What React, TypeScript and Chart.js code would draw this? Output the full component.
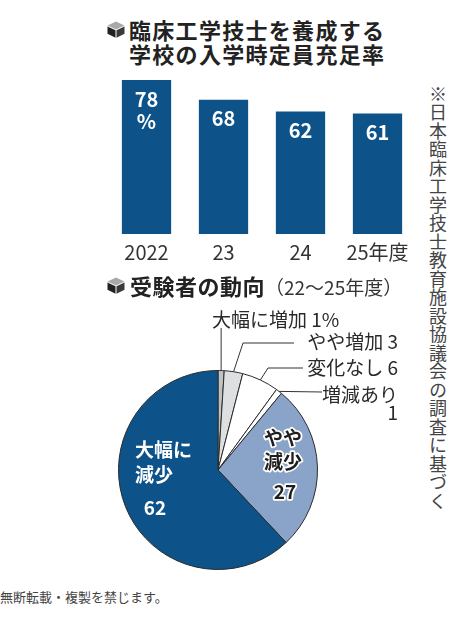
import React, { useEffect, useRef } from "react";
import { Chart, registerables } from "chart.js";

Chart.register(...registerables);

const years = ["2022", "23", "24", "25年度"];
const rates = [78, 68, 62, 61];
const trendLabels = ["大幅に増加", "やや増加", "変化なし", "増減あり", "やや減少", "大幅に減少"];
const trendValues = [1, 3, 6, 1, 27, 62];
const trendColors = ["#bfc2c5", "#dedfe0", "#ffffff", "#ffffff", "#8aa3c8", "#0d5288"];

const FONT = '"Noto Sans CJK JP", "Noto Sans", sans-serif';
const BAR_COLOR = "#0d5288";

function Cube({ left, top }: { left: number; top: number }) {
  return (
    <svg
      width={18}
      height={17}
      viewBox="0 0 18 17"
      style={{ position: "absolute", left, top }}
    >
      <polygon points="9,0.5 17.5,4.5 9,8.5 0.5,4.5" fill="#a9a9a9" />
      <polygon points="0.5,5.5 8.5,9.3 8.5,16.8 0.5,12.8" fill="#222" />
      <polygon points="9.5,9.3 17.5,5.5 17.5,12.8 9.5,16.8" fill="#3a3a3a" />
    </svg>
  );
}

function BarChart() {
  const ref = useRef<HTMLCanvasElement>(null);
  useEffect(() => {
    if (!ref.current) return;
    const labelPlugin = {
      id: "barLabels",
      afterDatasetsDraw(chart: any) {
        const ctx = chart.ctx;
        const meta = chart.getDatasetMeta(0);
        ctx.save();
        ctx.fillStyle = "#ffffff";
        ctx.font = `bold 20px ${FONT}`;
        ctx.textAlign = "center";
        ctx.textBaseline = "middle";
        meta.data.forEach((bar: any, i: number) => {
          ctx.fillText(String(rates[i]), bar.x, bar.y + 19);
          if (i === 0) ctx.fillText("%", bar.x, bar.y + 41);
        });
        ctx.restore();
      },
    };
    const chart = new Chart(ref.current, {
      type: "bar",
      data: {
        labels: years,
        datasets: [
          {
            data: rates,
            backgroundColor: BAR_COLOR,
            borderWidth: 0,
            barPercentage: 0.64,
            categoryPercentage: 1,
          },
        ],
      },
      options: {
        responsive: true,
        maintainAspectRatio: false,
        animation: false,
        layout: { padding: 0 },
        plugins: { legend: { display: false }, tooltip: { enabled: false } },
        scales: {
          y: { display: false, min: 0, max: 80 },
          x: {
            grid: { display: false, drawTicks: false },
            border: { display: false },
            ticks: {
              color: "#333",
              font: { family: FONT, size: 20 },
              padding: 6,
              maxRotation: 0,
              autoSkip: false,
            },
            afterFit: (s: any) => {
              s.height = 42;
            },
          },
        },
      },
      plugins: [labelPlugin],
    });
    return () => chart.destroy();
  }, []);
  return (
    <div style={{ position: "absolute", left: 108, top: 76, width: 308, height: 200 }}>
      <canvas ref={ref} />
    </div>
  );
}

function PieChart() {
  const ref = useRef<HTMLCanvasElement>(null);
  useEffect(() => {
    if (!ref.current) return;
    const pieLabels = {
      id: "pieLabels",
      afterDraw(chart: any) {
        const ctx = chart.ctx;
        const meta = chart.getDatasetMeta(0);
        const arcs = meta.data;
        const cx = arcs[0].x;
        const cy = arcs[0].y;
        const edge = (i: number) => {
          const a = arcs[i];
          const mid = (a.startAngle + a.endAngle) / 2;
          return [cx + a.outerRadius * Math.cos(mid), cy + a.outerRadius * Math.sin(mid)];
        };
        ctx.save();
        // leader lines
        ctx.strokeStyle = "#333";
        ctx.lineWidth = 1;
        const lines: number[][][] = [
          [edge(0), [edge(0)[0], cy - 142]],
          [edge(1), [cx + 25, cy - 127], [cx + 76, cy - 127]],
          [edge(2), [cx + 50, cy - 102], [cx + 85, cy - 102]],
          [edge(3), [cx + 104, cy - 78]],
        ];
        lines.forEach((pts) => {
          ctx.beginPath();
          ctx.moveTo(pts[0][0], pts[0][1]);
          for (let k = 1; k < pts.length; k++) ctx.lineTo(pts[k][0], pts[k][1]);
          ctx.stroke();
        });
        // outside labels
        ctx.fillStyle = "#2a2a2a";
        ctx.font = `19px ${FONT}`;
        ctx.textBaseline = "middle";
        ctx.textAlign = "left";
        ctx.fillText(`${trendLabels[0]} ${trendValues[0]}%`, cx - 6, cy - 150);
        ctx.textAlign = "right";
        ctx.fillText(`${trendLabels[1]} ${trendValues[1]}`, cx + 180, cy - 128);
        ctx.fillText(`${trendLabels[2]} ${trendValues[2]}`, cx + 180, cy - 102);
        ctx.fillText(trendLabels[3], cx + 180, cy - 75);
        ctx.fillText(String(trendValues[3]), cx + 180, cy - 57);
        // inside labels
        ctx.font = `bold 19px ${FONT}`;
        ctx.textAlign = "center";
        ctx.lineJoin = "round";
        ctx.lineWidth = 3.5;
        ctx.strokeStyle = "#ffffff";
        ctx.fillStyle = "#1e1e1e";
        const s = trendLabels[4];
        const t1 = [s.slice(0, 2), 65, -32];
        const t2 = [s.slice(2), 65, -8];
        const t3 = [String(trendValues[4]), 67, 22];
        [t1, t2, t3].forEach(([txt, dx, dy]: any) => {
          ctx.strokeText(txt, cx + dx, cy + dy);
          ctx.fillText(txt, cx + dx, cy + dy);
        });
        ctx.fillStyle = "#ffffff";
        ctx.textAlign = "left";
        const b = trendLabels[5];
        ctx.fillText(b.slice(0, 3), cx - 83, cy - 20);
        ctx.fillText(b.slice(3), cx - 83, cy + 5);
        ctx.textAlign = "center";
        ctx.fillText(String(trendValues[5]), cx - 63, cy + 38);
        ctx.restore();
      },
    };
    const chart = new Chart(ref.current, {
      type: "pie",
      data: {
        labels: trendLabels,
        datasets: [
          {
            data: trendValues,
            backgroundColor: trendColors,
            borderColor: "#2b2b2b",
            borderWidth: 1,
          },
        ],
      },
      options: {
        responsive: true,
        maintainAspectRatio: false,
        animation: false,
        layout: { padding: { left: 28, top: 70, right: 102, bottom: 10 } },
        plugins: { legend: { display: false }, tooltip: { enabled: false } },
      },
      plugins: [pieLabels],
    });
    return () => chart.destroy();
  }, []);
  return (
    <div style={{ position: "absolute", left: 90, top: 300, width: 330, height: 280 }}>
      <canvas ref={ref} />
    </div>
  );
}

export default function App() {
  return (
    <div
      style={{
        position: "absolute",
        left: 0,
        top: 0,
        width: 466,
        height: 621,
        background: "#ffffff",
        fontFamily: FONT,
        overflow: "hidden",
      }}
    >
      <Cube left={107} top={21} />
      <div
        style={{
          position: "absolute",
          left: 129,
          top: 17,
          fontSize: 22,
          fontWeight: 700,
          lineHeight: "24px",
          letterSpacing: "1.3px",
          color: "#222",
          whiteSpace: "nowrap",
        }}
      >
        <div>臨床工学技士を養成する</div>
        <div>学校の入学時定員充足率</div>
      </div>
      <BarChart />
      <Cube left={107} top={277} />
      <div
        style={{
          position: "absolute",
          left: 130,
          top: 273,
          lineHeight: "24px",
          color: "#222",
          whiteSpace: "nowrap",
        }}
      >
        <span style={{ fontSize: 22, fontWeight: 700, letterSpacing: "0.5px" }}>受験者の動向</span>
        <span style={{ fontSize: 19, fontWeight: 400, color: "#333" }}>（22〜25年度）</span>
      </div>
      <PieChart />
      <div
        style={{
          position: "absolute",
          left: 428,
          top: 85,
          writingMode: "vertical-rl",
          fontSize: 18,
          letterSpacing: "0.5px",
          lineHeight: "20px",
          color: "#444",
          whiteSpace: "nowrap",
        }}
      >
        ※日本臨床工学技士教育施設協議会の調査に基づく
      </div>
      <div
        style={{
          position: "absolute",
          left: 0,
          top: 589,
          fontSize: 13,
          lineHeight: "16px",
          color: "#444",
          whiteSpace: "nowrap",
        }}
      >
        無断転載・複製を禁じます。
      </div>
    </div>
  );
}
